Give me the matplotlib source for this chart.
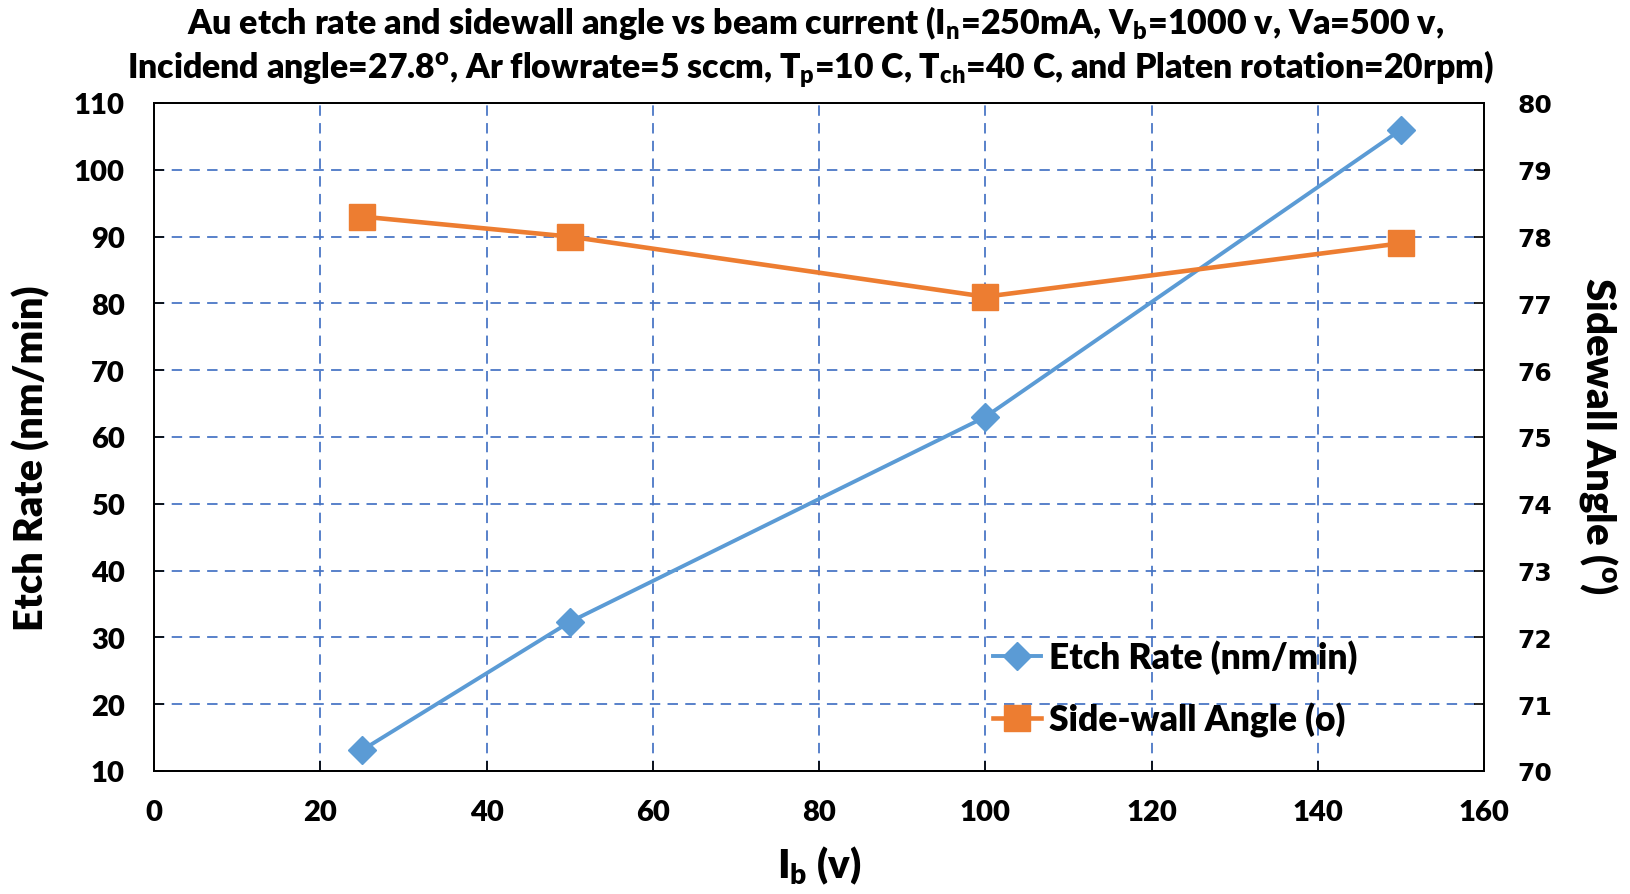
import matplotlib
matplotlib.use("Agg")
import matplotlib.pyplot as plt

# Data
beam_current = [25, 50, 100, 150]
etch_rate = [13.1, 32.3, 63.0, 106.0]
sidewall_angle = [78.3, 78.0, 77.1, 77.9]

x_ticks = [0, 20, 40, 60, 80, 100, 120, 140, 160]
left_ticks = [10, 20, 30, 40, 50, 60, 70, 80, 90, 100, 110]
right_ticks = [70, 71, 72, 73, 74, 75, 76, 77, 78, 79, 80]

title_line1 = "Au etch rate and sidewall angle vs beam current (I$_{n}$=250mA, V$_{b}$=1000 v, Va=500 v,"
title_line2 = "Incidend angle=27.8$^{o}$, Ar flowrate=5 sccm, T$_{p}$=10 C, T$_{ch}$=40 C, and Platen rotation=20rpm)"

MAIN_FONT = "Lato"
WEIGHT = "heavy"
plt.rcParams["font.family"] = [MAIN_FONT, "DejaVu Sans"]
plt.rcParams["font.weight"] = WEIGHT
plt.rcParams["mathtext.fontset"] = "custom"
plt.rcParams["mathtext.rm"] = f"{MAIN_FONT}:{WEIGHT}"
plt.rcParams["mathtext.it"] = f"{MAIN_FONT}:{WEIGHT}"
plt.rcParams["mathtext.bf"] = f"{MAIN_FONT}:{WEIGHT}"
plt.rcParams["mathtext.default"] = "rm"

W, H = 1631, 895
fig = plt.figure(figsize=(W / 100, H / 100), dpi=100)
ax = fig.add_axes([154 / W, 1 - 772 / H, (1484 - 154) / W, (772 - 104) / H])
ax2 = ax.twinx()

blue = "#5B9BD5"
orange = "#ED7D31"
grid_blue = "#4472C4"

ax.set_xlim(0, 160)
ax.set_ylim(10, 110)
ax2.set_ylim(70, 80)
ax.set_xticks(x_ticks)
ax.set_yticks(left_ticks)
ax2.set_yticks(right_ticks)

ax.grid(True, which="major", color=grid_blue, linestyle=(0, (6, 4.2)), linewidth=1.25)
ax.set_axisbelow(True)

l1, = ax.plot(beam_current, etch_rate, color=blue, linewidth=2.8, marker="D",
              markersize=14, markeredgecolor=blue, label="Etch Rate (nm/min)", zorder=3)
l2, = ax2.plot(beam_current, sidewall_angle, color=orange, linewidth=3.3, marker="s",
               markersize=19, markeredgecolor=orange, label="Side-wall Angle (o)", zorder=3)

for a in (ax, ax2):
    for s in a.spines.values():
        s.set_color("black")
        s.set_linewidth(1.3)

ax.tick_params(axis="both", direction="in", length=7, width=1.2, color="black")
ax.tick_params(axis="y", labelsize=21, pad=21)
ax.tick_params(axis="x", labelsize=21, pad=20)
ax2.tick_params(axis="y", direction="in", length=7, width=1.2, color="black",
                labelsize=18, pad=24)
for lab in ax2.get_yticklabels():
    lab.set_fontfamily("DejaVu Sans")
    lab.set_fontweight("bold")

fig.text(816 / W, 1 - 23 / H, title_line1, ha="center", va="center", fontsize=24.5)
fig.text(810 / W, 1 - 69 / H, title_line2, ha="center", va="center", fontsize=24.3)

fig.text(31 / W, 1 - 458 / H, "Etch Rate (nm/min)", rotation=90, ha="center", va="center",
         fontsize=28.5)
fig.text(1599 / W, 1 - 436 / H, "Sidewall Angle ($^{o}$)", rotation=270, ha="center", va="center",
         fontsize=29)
fig.text(819 / W, 1 - 866 / H, "I$_{b}$ (v)", ha="center", va="center", fontsize=29)

leg = ax.legend(handles=[l1, l2], loc="upper left", bbox_to_anchor=(0.620, 0.218),
                frameon=False, fontsize=25.5, handlelength=1.35, handletextpad=0.25,
                labelspacing=0.77, borderaxespad=0)
leg.set_zorder(5)

fig.savefig("out.png", dpi=100)
